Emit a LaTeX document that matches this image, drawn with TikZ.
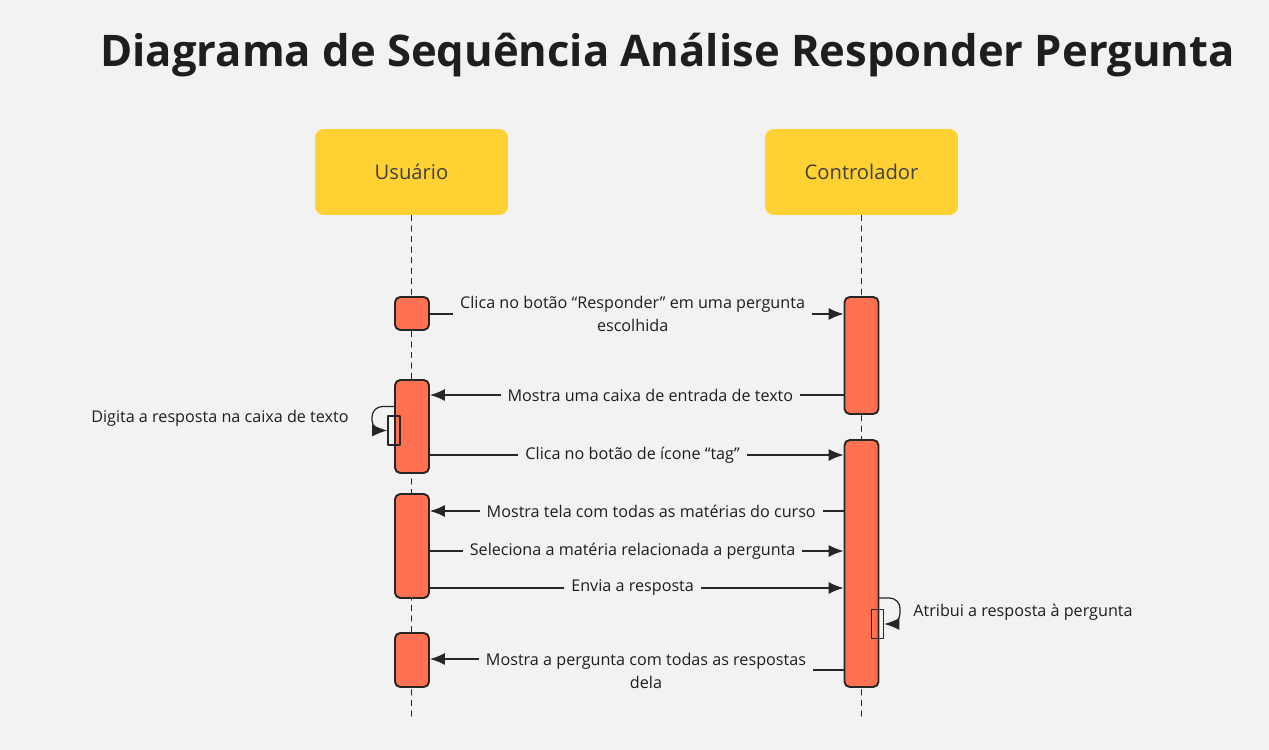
\documentclass[tikz,border=0pt]{standalone}
\usepackage{fontspec}
\setmainfont{Open Sans}
\usetikzlibrary{arrows.meta}

\definecolor{fundo}{HTML}{F2F2F2}
\definecolor{amarelo}{HTML}{FFD132}
\definecolor{coral}{HTML}{FF7150}
\definecolor{borda}{HTML}{262626}
\definecolor{texto}{HTML}{1E1E1E}

\begin{document}
\begin{tikzpicture}[
  x=0.02cm,
  y=-0.02cm,
  line cap=round,
  line join=round,
  ator/.style={
    fill=amarelo,
    rounded corners=5pt,
    minimum width=3.86cm,
    minimum height=1.72cm,
    text=texto!85,
    font=\fontsize{11.5}{14}\selectfont
  },
  ativacao/.style={
    draw=borda,
    fill=coral,
    line width=1.1pt,
    rounded corners=3pt,
    minimum width=0.68cm,
    inner sep=0pt
  },
  propria/.style={
    draw=borda,
    line width=0.9pt,
    minimum width=0.24cm,
    minimum height=0.58cm,
    inner sep=0pt
  },
  vida/.style={
    borda,
    line width=0.6pt,
    dash pattern=on 3pt off 3pt
  },
  msg/.style={
    borda,
    line width=0.7pt,
    -{Latex[length=0.3cm,width=0.24cm]}
  },
  rotulo/.style={
    fill=fundo,
    text=texto,
    inner xsep=4pt,
    inner ysep=1pt,
    align=center,
    font=\fontsize{9.2}{12.6}\selectfont
  }
]
  % Fundo e margens
  \useasboundingbox (0,0) rectangle (1269,750);
  \fill[fundo] (0,0) rectangle (1269,750);

  % Titulo
  \node[text=texto, font=\fontsize{24.8}{30}\selectfont\bfseries]
    (titulo) at (667.5,55)
    {Diagrama de Sequência Análise Responder Pergunta};

  % Participantes
  \node[ator] (usuario) at (411.5,172) {Usuário};
  \node[ator] (controlador) at (861.5,172) {Controlador};

  % Linhas de vida
  \coordinate (fimU) at (411.5,718);
  \coordinate (fimC) at (861.5,716);
  \draw[vida] (usuario.south) -- (fimU);
  \draw[vida] (controlador.south) -- (fimC);

  % Ativacoes do usuario
  \node[ativacao, minimum height=0.66cm] (a1) at (412,313.5) {};
  \node[ativacao, minimum height=1.86cm] (a2) at (412,426.5) {};
  \node[ativacao, minimum height=2.08cm] (a3) at (412,546) {};
  \node[ativacao, minimum height=1.08cm] (a4) at (412,660) {};

  % Ativacoes do controlador
  \node[ativacao, minimum height=2.34cm] (b1) at (861.5,355.5) {};
  \node[ativacao, minimum height=4.94cm] (b2) at (861.5,563.5) {};

  % Chamadas proprias
  \node[propria] (p1) at (394,430.5) {};
  \node[propria] (p2) at (877.5,624) {};

  % Alturas das mensagens
  \coordinate (m1) at (0,314);
  \coordinate (m2) at (0,395);
  \coordinate (m3) at (0,455);
  \coordinate (m4) at (0,511);
  \coordinate (m5) at (0,551);
  \coordinate (m6) at (0,588);
  \coordinate (m7) at (0,659);
  \coordinate (m7b) at (0,670);
  \coordinate (q7) at (646,0);

  % Mensagens
  \draw[msg] (a1.east |- m1) --
    node[rotulo, pos=0.49]
    {Clica no botão “Responder” em uma pergunta\\escolhida}
    (b1.west |- m1);

  \draw[msg] (b1.west |- m2) --
    node[rotulo, pos=0.467] {Mostra uma caixa de entrada de texto}
    (a2.east |- m2);

  \draw[msg] (a2.east |- m3) --
    node[rotulo, pos=0.49] {Clica no botão de ícone “tag”}
    (b2.west |- m3);

  \draw[msg] (b2.west |- m4) --
    node[rotulo, pos=0.465] {Mostra tela com todas as matérias do curso}
    (a3.east |- m4);

  \draw[msg] (a3.east |- m5) --
    node[rotulo, pos=0.49] {Seleciona a matéria relacionada a pergunta}
    (b2.west |- m5);

  \draw[msg] (a3.east |- m6) --
    node[rotulo, pos=0.49] {Envia a resposta}
    (b2.west |- m6);

  \draw[msg] (b2.west |- m7b) -- (q7 |- m7b) -- (q7 |- m7)
    -- (a4.east |- m7);
  \node[rotulo] (t7) at (646,671)
    {Mostra a pergunta com todas as respostas\\dela};

  % Laco: digita a resposta
  \coordinate (s1) at (395,406.5);
  \draw[msg, rounded corners=6pt]
    (s1) -- (372,406.5) -- (372,430.5) -- (p1.west);
  \node[rotulo, anchor=east] (d1) at (356,418)
    {Digita a resposta na caixa de texto};

  % Laco: atribui a resposta
  \coordinate (s2) at (878.5,598);
  \draw[msg, rounded corners=6pt]
    (s2) -- (900,598) -- (900,624) -- (p2.east);
  \node[rotulo, anchor=west] (d2) at (906,612)
    {Atribui a resposta à pergunta};
\end{tikzpicture}
\end{document}
